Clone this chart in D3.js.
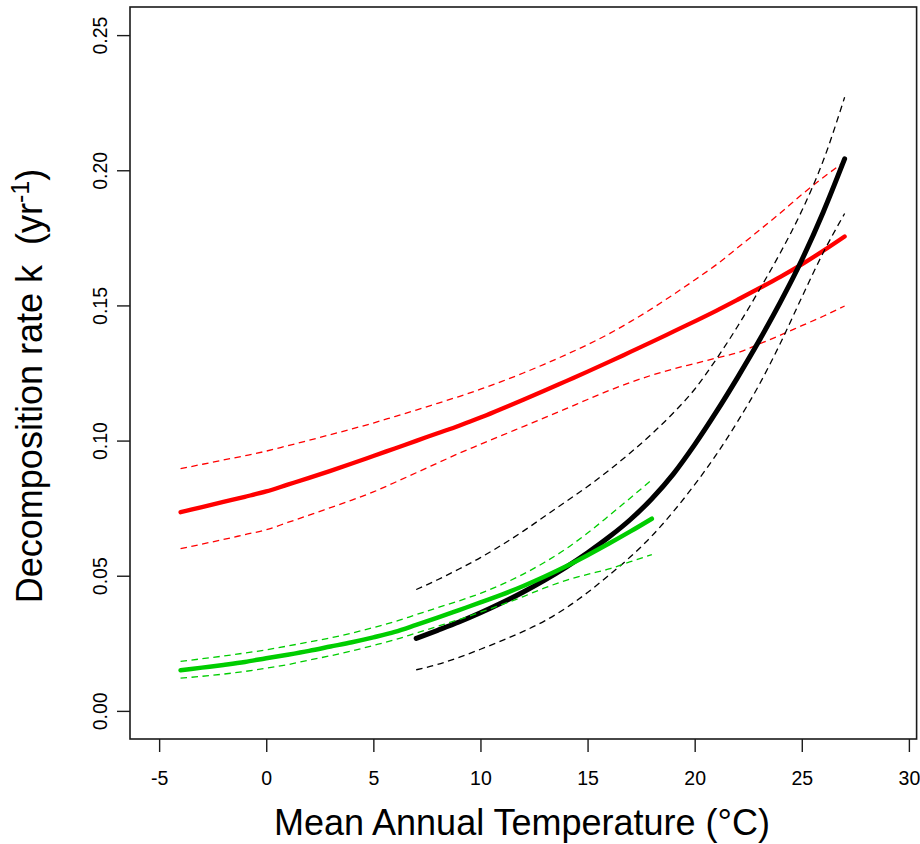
<!DOCTYPE html>
<html>
<head>
<meta charset="utf-8">
<script src="https://cdn.jsdelivr.net/npm/d3@7"></script>
<style>
  body { margin: 0; background: #fff; }
</style>
</head>
<body>
<div id="chart"></div>
<script>
// temperature grid for each fit (degrees C)
const tempRed = [-4, -3, -2, -1, 0, 1, 2, 3, 4, 5, 6, 7, 8, 9, 10, 11, 12, 13, 14, 15, 16, 17, 18, 19, 20, 21, 22, 23, 24, 25, 26, 27]
const tempBlack = [7, 8, 9, 10, 11, 12, 13, 14, 15, 16, 17, 18, 19, 20, 21, 22, 23, 24, 25, 26, 27]
const tempGreen = [-4, -3, -2, -1, 0, 1, 2, 3, 4, 5, 6, 7, 8, 9, 10, 11, 12, 13, 14, 15, 16, 17, 18]

// decomposition rate k
const redFit = [0.0735, 0.0754, 0.0773, 0.0792, 0.0812, 0.0837, 0.0862, 0.0888, 0.0915, 0.0943, 0.0971, 0.0999, 0.1027, 0.1055, 0.1085, 0.1118,
  0.1151, 0.1185, 0.1220, 0.1255, 0.1291, 0.1328, 0.1365, 0.1403, 0.1441, 0.1480, 0.1521, 0.1563, 0.1606, 0.1652, 0.1702, 0.1755]
const redUpper = [0.0896, 0.0912, 0.0928, 0.0944, 0.0961, 0.0981, 0.1001, 0.1022, 0.1043, 0.1065, 0.1089, 0.1113, 0.1138, 0.1163, 0.1190, 0.1219,
  0.1250, 0.1283, 0.1318, 0.1355, 0.1395, 0.1440, 0.1488, 0.1540, 0.1594, 0.1650, 0.1713, 0.1777, 0.1842, 0.1910, 0.1973, 0.2032]
const redLower = [0.0600, 0.0617, 0.0634, 0.0652, 0.0670, 0.0697, 0.0724, 0.0752, 0.0780, 0.0810, 0.0845, 0.0881, 0.0917, 0.0953, 0.0986, 0.1019,
  0.1052, 0.1085, 0.1118, 0.1152, 0.1185, 0.1215, 0.1242, 0.1265, 0.1285, 0.1305, 0.1325, 0.1357, 0.1390, 0.1425, 0.1460, 0.1498]

const blackFit = [0.0268, 0.0298, 0.0329, 0.0363, 0.0400, 0.0440, 0.0484, 0.0532, 0.0585, 0.0643, 0.0708, 0.0785, 0.0876, 0.0985, 0.1105,
  0.1233, 0.1368, 0.1512, 0.1668, 0.1845, 0.2042]
const blackUpper = [0.0449, 0.0485, 0.0525, 0.0567, 0.0614, 0.0665, 0.0720, 0.0775, 0.0830, 0.0890, 0.0955, 0.1025, 0.1102, 0.1190, 0.1300,
  0.1422, 0.1555, 0.1695, 0.1850, 0.2035, 0.2270]
const blackLower = [0.0152, 0.0172, 0.0198, 0.0228, 0.0260, 0.0294, 0.0333, 0.0381, 0.0438, 0.0502, 0.0570, 0.0647, 0.0737, 0.0837, 0.0947,
  0.1070, 0.1205, 0.1360, 0.1530, 0.1695, 0.1840]

const greenFit = [0.0150, 0.0160, 0.0170, 0.0181, 0.0195, 0.0208, 0.0222, 0.0238, 0.0254, 0.0272, 0.0292, 0.0318, 0.0345, 0.0373, 0.0401,
  0.0430, 0.0462, 0.0497, 0.0535, 0.0576, 0.0619, 0.0664, 0.0711]
const greenUpper = [0.0183, 0.0193, 0.0203, 0.0214, 0.0226, 0.0240, 0.0255, 0.0270, 0.0288, 0.0308, 0.0330, 0.0356, 0.0382, 0.0407, 0.0435,
  0.0468, 0.0506, 0.0550, 0.0600, 0.0658, 0.0722, 0.0788, 0.0855]
const greenLower = [0.0121, 0.0128, 0.0136, 0.0146, 0.0158, 0.0171, 0.0188, 0.0204, 0.0222, 0.0242, 0.0263, 0.0288, 0.0313, 0.0338, 0.0365,
  0.0393, 0.0423, 0.0455, 0.0483, 0.0505, 0.0525, 0.0552, 0.0578]

// ticks
const xTicks = [-5, 0, 5, 10, 15, 20, 25, 30]
const xTickLabels = ["-5", "0", "5", "10", "15", "20", "25", "30"]
const yTicks = [0, 0.05, 0.10, 0.15, 0.20, 0.25]
const yTickLabels = ["0.00", "0.05", "0.10", "0.15", "0.20", "0.25"]

const width = 920
const height = 844
const plot = { left: 130, right: 916.6, top: 7, bottom: 739 }
const font = "'Liberation Sans', Arial, Helvetica, sans-serif"
const axisColor = "#1a1a1a"

const svg = d3.select('#chart').append('svg')
  .attr('width', width)
  .attr('height', height)
  .attr('viewBox', `0 0 ${width} ${height}`)
  .style('font-family', font)

// R pads the range by 4% on each side
const xScale = d3.scaleLinear().domain([-6.36, 30.36]).range([plot.left, plot.right])
const yScale = d3.scaleLinear().domain([-0.0104, 0.2604]).range([plot.bottom, plot.top])

// x axis
svg.append('g')
  .attr('transform', `translate(0, ${plot.bottom})`)
  .call(d3.axisBottom(xScale).tickValues(xTicks).tickSize(13).tickPadding(19)
    .tickFormat((d, i) => xTickLabels[i]))
  .call(g => g.select('.domain').remove())
  .call(g => g.selectAll('line').attr('stroke', axisColor).attr('stroke-width', 1.4))
  .call(g => g.selectAll('text').attr('font-size', 19.5).attr('fill', '#000').style('font-family', font))

// y axis, labels turned like R's las = 0
svg.append('g')
  .attr('transform', `translate(${plot.left}, 0)`)
  .call(d3.axisLeft(yScale).tickValues(yTicks).tickSize(13)
    .tickFormat((d, i) => yTickLabels[i]))
  .call(g => g.select('.domain').remove())
  .call(g => g.selectAll('line').attr('stroke', axisColor).attr('stroke-width', 1.4))
  .call(g => g.selectAll('text')
    .attr('x', null)
    .attr('dy', null)
    .attr('text-anchor', 'middle')
    .attr('transform', 'translate(-23.5, 0) rotate(-90)')
    .attr('font-size', 19.5)
    .attr('fill', '#000')
    .style('font-family', font))

// plot frame
svg.append('rect')
  .attr('x', plot.left)
  .attr('y', plot.top)
  .attr('width', plot.right - plot.left)
  .attr('height', plot.bottom - plot.top)
  .attr('fill', 'none')
  .attr('stroke', axisColor)
  .attr('stroke-width', 1.6)

const line = d3.line()
  .x(d => xScale(d[0]))
  .y(d => yScale(d[1]))
  .curve(d3.curveMonotoneX)

const drawFit = (temps, fit, upper, lower, color, solidWidth) => {
  const g = svg.append('g')
  for (const band of [upper, lower]) {
    g.append('path')
      .attr('d', line(d3.zip(temps, band)))
      .attr('fill', 'none')
      .attr('stroke', color)
      .attr('stroke-width', 1.3)
      .attr('stroke-dasharray', '6.5,4.5')
  }
  g.append('path')
    .attr('d', line(d3.zip(temps, fit)))
    .attr('fill', 'none')
    .attr('stroke', color)
    .attr('stroke-width', solidWidth)
    .attr('stroke-linecap', 'round')
    .attr('stroke-linejoin', 'round')
}

drawFit(tempRed, redFit, redUpper, redLower, '#ff0000', 4.3)
drawFit(tempBlack, blackFit, blackUpper, blackLower, '#000000', 5)
drawFit(tempGreen, greenFit, greenUpper, greenLower, '#00cd00', 4.5)

// axis titles
svg.append('text')
  .attr('x', 522)
  .attr('y', 835)
  .attr('text-anchor', 'middle')
  .attr('font-size', 36)
  .text('Mean Annual Temperature (°C)')

const yTitle = svg.append('text')
  .attr('transform', 'translate(42, 386) rotate(-90)')
  .attr('text-anchor', 'middle')
  .attr('font-size', 36)
  .style('white-space', 'pre')
yTitle.append('tspan').text('Decomposition rate k  (yr')
yTitle.append('tspan').attr('font-size', 25).attr('dy', -13).text('-1')
yTitle.append('tspan').attr('dy', 13).text(')')
</script>
</body>
</html>
